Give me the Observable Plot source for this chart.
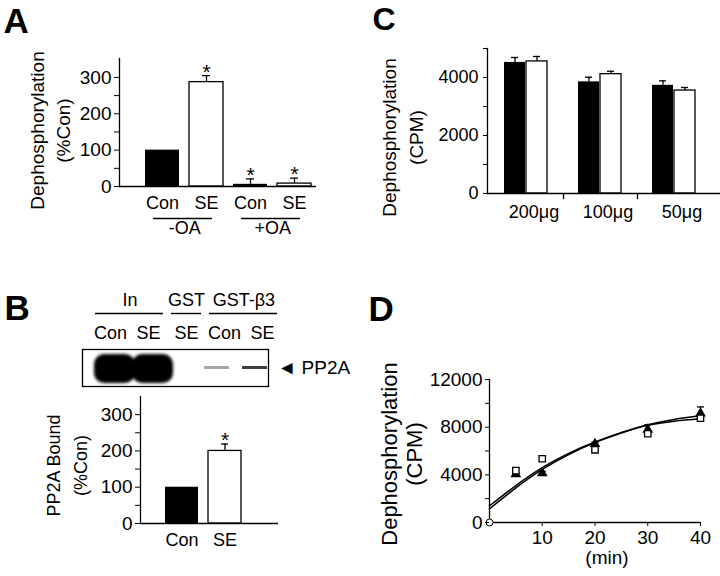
<!DOCTYPE html>
<html><head><meta charset="utf-8">
<script src="https://cdn.jsdelivr.net/npm/d3@7"></script>
<script src="https://cdn.jsdelivr.net/npm/@observablehq/plot@0.6"></script>
<style>
html,body{margin:0;padding:0;background:#fff;}
#fig{position:relative;width:720px;height:576px;background:#fff;overflow:hidden;}
.panel{position:absolute;}
.panel svg{display:block;max-width:none;}
</style></head>
<body><div id="fig"></div>
<script>
// ---------- Panel A data ----------
const catsA = ["Con -OA", "SE -OA", "Con +OA", "SE +OA"];
const labelsA = ["Con", "SE", "Con", "SE"];
const condA = ["Con", "SE", "Con", "SE"];
const valueA = [100, 287, 6, 8];
const upperA = [100, 305, 21, 23];
const starA = [false, true, true, true];
const groupLabelsA = ["-OA", "+OA"];
const groupFirstA = ["Con -OA", "Con +OA"];
const groupLastA = ["SE -OA", "SE +OA"];

// ---------- Panel B data ----------
const laneIds = ["In Con", "In SE", "GST SE", "b3 Con", "b3 SE"];
const laneLabels = ["Con", "SE", "SE", "Con", "SE"];
const laneSignal = [1.0, 1.0, 0.0, 0.35, 0.75];
const headerLabels = ["In", "GST", "GST-β3"];
const headerFirst = ["In Con", "GST SE", "b3 Con"];
const headerLast = ["In SE", "GST SE", "b3 SE"];
const condB = ["Con", "SE"];
const valueB = [100, 200];
const upperB = [100, 219];
const starB = [false, true];

// ---------- Panel C data ----------
const doseC = ["200μg", "100μg", "50μg"];
const conC = [4520, 3850, 3730];
const conUpC = [4690, 4010, 3885];
const seC = [4555, 4115, 3550];
const seUpC = [4725, 4215, 3655];

// ---------- Panel D data ----------
const timeD = [5, 10, 20, 30, 40];
const conD = [4050, 4150, 6600, 7800, 9150];
const conUpD = [4150, 4300, 6750, 8200, 9700];
const seD = [4350, 5350, 6100, 7450, 8750];
const seUpD = [4550, 5600, 6250, 7600, 8900];
const originTimeD = [0];
const originValueD = [0];
const fitTimeD = [0, 5, 10, 15, 20, 25, 30, 35, 40];
const fitConD = [1400, 3100, 4600, 5800, 6750, 7550, 8200, 8650, 8950];
const fitSeD = [1150, 2900, 4450, 5700, 6700, 7500, 8150, 8500, 8700];

const FONT = "'Liberation Sans', Arial, Helvetica, sans-serif";
const STYLE = {fontFamily: FONT, fontSize: "18px", background: "transparent", overflow: "visible", color: "#000"};
const fig = document.getElementById("fig");
function place(el, left, top) {
  const d = document.createElement("div");
  d.className = "panel";
  d.style.left = left + "px";
  d.style.top = top + "px";
  d.appendChild(el);
  fig.appendChild(d);
}
const capSymbol = {draw(ctx, size) { const w = Math.sqrt(size / Math.PI); ctx.moveTo(-w, 0); ctx.lineTo(w, 0); }};

// ================= Panel A =================
const rowsA = catsA.map((c, i) => ({cat: c, label: labelsA[i], cond: condA[i], value: valueA[i], hi: upperA[i], star: starA[i]}));
const labelOfA = Object.fromEntries(catsA.map((c, i) => [c, labelsA[i]]));
const grpA = groupLabelsA.map((g, i) => ({label: g, first: groupFirstA[i], last: groupLastA[i]}));
const plotA = Plot.plot({
  width: 360, height: 260, marginLeft: 119, marginRight: 44, marginTop: 58, marginBottom: 74,
  style: STYLE,
  x: {domain: catsA, paddingInner: 0.22, paddingOuter: 0.332, align: 0.85, label: null},
  y: {domain: [0, 352], label: null},
  marks: [
    Plot.barY(rowsA, {filter: d => d.cond === "Con", x: "cat", y: "value", fill: "#000"}),
    Plot.barY(rowsA, {filter: d => d.cond === "SE", x: "cat", y: "value", fill: "#fff", stroke: "#000", strokeWidth: 1.3}),
    Plot.ruleX(rowsA, {filter: d => d.hi > d.value, x: "cat", y1: "value", y2: "hi", strokeWidth: 1.3}),
    Plot.tickY(rowsA, {filter: d => d.hi > d.value, x: "cat", y: "hi", insetLeft: 13, insetRight: 13, strokeWidth: 1.3}),
    Plot.text(rowsA, {filter: d => d.star, x: "cat", y: "hi", text: () => "*", lineAnchor: "bottom", dy: 3, fontSize: 21}),
    Plot.frame({anchor: "left", strokeWidth: 1.3}),
    Plot.ruleY([0], {strokeWidth: 1.3}),
    Plot.axisY({ticks: d3.range(0, 301, 50), tickSize: 5, tickPadding: 3, tickFormat: d => d % 100 === 0 ? String(d) : "", fontSize: 19, label: null}),
    Plot.axisX({tickSize: 0, tickPadding: 10, tickFormat: d => labelOfA[d], fontSize: 18, label: null}),
    Plot.ruleY(grpA, {x1: "first", x2: "last", y: () => 0, dy: 32, insetLeft: 8, insetRight: 11, strokeWidth: 1.4}),
    Plot.text(grpA, {x: "first", text: "label", frameAnchor: "bottom", dx: 22.2, dy: 47, fontSize: 18}),
    Plot.text(["Dephosphorylation\n(%Con)"], {frameAnchor: "left", textAnchor: "middle", rotate: -90, dx: -70.7, dy: 8, lineHeight: 1.37, fontSize: 19}),
    Plot.text(["A"], {frameAnchor: "top-left", textAnchor: "start", lineAnchor: "bottom", dx: -116, dy: -26, fontSize: 35, fontWeight: "bold"})
  ]
});
place(plotA, 0, 0);

// ================= Panel C =================
const rowsC = doseC.map((g, i) => ({dose: g, con: conC[i], conHi: conUpC[i], se: seC[i], seHi: seUpC[i]}));
const plotC = Plot.plot({
  width: 360, height: 260, marginLeft: 127, marginRight: 0, marginTop: 48, marginBottom: 67,
  style: STYLE,
  x: {domain: doseC, paddingInner: 0.4133, paddingOuter: 0.26, align: 0.41, label: null},
  y: {domain: [0, 5000], label: null},
  marks: [
    Plot.barY(rowsC, {x: "dose", y: "con", fill: "#000", insetRight: 22}),
    Plot.barY(rowsC, {x: "dose", y: "se", fill: "#fff", stroke: "#000", strokeWidth: 1.3, insetLeft: 22}),
    Plot.ruleX(rowsC, {x: "dose", y1: "con", y2: "conHi", dx: -11, strokeWidth: 1.3}),
    Plot.tickY(rowsC, {x: "dose", y: "conHi", dx: -11, insetLeft: 18, insetRight: 18, strokeWidth: 1.3}),
    Plot.ruleX(rowsC, {x: "dose", y1: "se", y2: "seHi", dx: 11, strokeWidth: 1.3}),
    Plot.tickY(rowsC, {x: "dose", y: "seHi", dx: 11, insetLeft: 18, insetRight: 18, strokeWidth: 1.3}),
    Plot.frame({anchor: "left", strokeWidth: 1.3}),
    Plot.ruleY([0], {strokeWidth: 1.3}),
    Plot.axisY({ticks: d3.range(0, 5001, 1000), tickSize: 4, tickPadding: 5, tickFormat: d => d % 2000 === 0 ? String(d) : "", fontSize: 18, label: null}),
    Plot.axisX({ticks: doseC.slice(0, 2), tickSize: 6, tickFormat: () => "", dx: 37.5, strokeWidth: 1.3, label: null}),
    Plot.axisX({tickSize: 0, tickPadding: 12, dx: 8, fontSize: 18, label: null}),
    Plot.text(["Dephosphorylation\n(CPM)"], {frameAnchor: "left", textAnchor: "middle", rotate: -90, dx: -86.5, dy: 16.5, lineHeight: 1.42, fontSize: 19}),
    Plot.text(["C"], {frameAnchor: "top-left", textAnchor: "start", lineAnchor: "bottom", dx: -115, dy: -19, fontSize: 32, fontWeight: "bold"})
  ]
});
place(plotC, 360, 0);

// ================= Panel B: blot =================
const laneRows = laneIds.map((l, i) => ({lane: l, label: laneLabels[i], signal: laneSignal[i]}));
const laneLabelOf = Object.fromEntries(laneIds.map((l, i) => [l, laneLabels[i]]));
const hdrRows = headerLabels.map((h, i) => ({label: h, first: headerFirst[i], last: headerLast[i]}));
const plotBlot = Plot.plot({
  width: 360, height: 110, marginLeft: 82, marginRight: 92, marginTop: 69, marginBottom: 4,
  style: STYLE,
  x: {domain: laneIds, range: [88.6, 282.6], padding: 0, label: null},
  opacity: {type: "identity"},
  marks: [
    Plot.cell(laneRows, {filter: d => d.signal >= 0.9, x: "lane", fill: "#000", insetTop: 5, insetBottom: 3, insetLeft: -1.5, insetRight: -1.5, dx: 4.5, rx: 10}),
    Plot.cell(laneRows, {filter: d => d.signal > 0 && d.signal < 0.9, x: "lane", fill: "#000", fillOpacity: "signal", insetTop: 17, insetBottom: 17, insetLeft: 5, insetRight: 8, dx: -6}),
    Plot.frame({stroke: "#000", strokeWidth: 1.3}),
    Plot.axisX({anchor: "top", tickSize: 0, tickPadding: 11, tickFormat: d => laneLabelOf[d], fontSize: 18, label: null}),
    Plot.ruleY(hdrRows, {x1: "first", x2: "last", y: null, dy: -54.5, insetLeft: 4, insetRight: 4, strokeWidth: 1.4}),
    Plot.text(hdrRows, {filter: d => d.first !== d.last, x: "first", text: "label", dx: 19.4, frameAnchor: "top", lineAnchor: "bottom", dy: -44, fontSize: 18}),
    Plot.text(hdrRows, {filter: d => d.first === d.last, x: "first", text: "label", frameAnchor: "top", lineAnchor: "bottom", dy: -44, fontSize: 18}),
    Plot.text(["◄ PP2A"], {frameAnchor: "right", textAnchor: "start", dx: 9, fontSize: 19}),
    Plot.text(["B"], {frameAnchor: "top-left", textAnchor: "start", lineAnchor: "bottom", dx: -78, dy: -30, fontSize: 35, fontWeight: "bold"})
  ]
});
{
  const s = d3.select(plotBlot);
  const defs = s.insert("defs", ":first-child");
  defs.append("filter").attr("id", "blotBlur").attr("x", "-20%").attr("y", "-30%").attr("width", "140%").attr("height", "160%")
    .append("feGaussianBlur").attr("stdDeviation", 1.4);
  defs.append("filter").attr("id", "bandBlur").attr("x", "-20%").attr("y", "-100%").attr("width", "140%").attr("height", "300%")
    .append("feGaussianBlur").attr("stdDeviation", 0.7);
  const cells = s.selectAll("g[aria-label='cell']").nodes();
  if (cells[0]) cells[0].setAttribute("filter", "url(#blotBlur)");
  if (cells[1]) cells[1].setAttribute("filter", "url(#bandBlur)");
}
place(plotBlot, 0, 280);

// ================= Panel B: bars =================
const rowsB = condB.map((c, i) => ({cond: c, value: valueB[i], hi: upperB[i], star: starB[i]}));
const plotB = Plot.plot({
  width: 360, height: 186, marginLeft: 140, marginRight: 82, marginTop: 6, marginBottom: 53,
  style: STYLE,
  x: {domain: condB, paddingInner: 0.227, paddingOuter: 0.682, align: 0.4, label: null},
  y: {domain: [0, 350], label: null},
  marks: [
    Plot.barY(rowsB, {filter: d => d.cond === "Con", x: "cond", y: "value", fill: "#000"}),
    Plot.barY(rowsB, {filter: d => d.cond === "SE", x: "cond", y: "value", fill: "#fff", stroke: "#000", strokeWidth: 1.3}),
    Plot.ruleX(rowsB, {filter: d => d.hi > d.value, x: "cond", y1: "value", y2: "hi", strokeWidth: 1.3}),
    Plot.tickY(rowsB, {filter: d => d.hi > d.value, x: "cond", y: "hi", insetLeft: 13, insetRight: 13, strokeWidth: 1.3}),
    Plot.text(rowsB, {filter: d => d.star, x: "cond", y: "hi", text: () => "*", lineAnchor: "bottom", dy: 3, fontSize: 21}),
    Plot.frame({anchor: "left", strokeWidth: 1.3}),
    Plot.ruleY([0], {strokeWidth: 1.3}),
    Plot.axisY({ticks: d3.range(0, 301, 50), tickSize: 5, tickPadding: 3, tickFormat: d => d % 100 === 0 ? String(d) : "", fontSize: 19, label: null}),
    Plot.axisX({tickSize: 0, tickPadding: 10, fontSize: 18, label: null}),
    Plot.text(["PP2A Bound\n(%Con)"], {frameAnchor: "left", textAnchor: "middle", rotate: -90, dx: -75.3, dy: 5.5, lineHeight: 1.5, fontSize: 18})
  ]
});
place(plotB, 0, 390);

// ================= Panel D =================
const conRowsD = timeD.map((t, i) => ({t, v: conD[i], hi: conUpD[i]}));
const seRowsD = timeD.map((t, i) => ({t, v: seD[i], hi: seUpD[i]}));
const originRowsD = originTimeD.map((t, i) => ({t, v: originValueD[i]}));
const fitConRows = fitTimeD.map((t, i) => ({t, v: fitConD[i]}));
const fitSeRows = fitTimeD.map((t, i) => ({t, v: fitSeD[i]}));
const errRowsD = [...conRowsD, ...seRowsD].filter(d => d.hi > d.v);
const plotD = Plot.plot({
  width: 360, height: 316, marginLeft: 129, marginRight: 20, marginTop: 119, marginBottom: 54,
  style: STYLE,
  x: {domain: [0, 40], label: null},
  y: {domain: [0, 12000], label: null},
  marks: [
    Plot.line(fitConRows, {x: "t", y: "v", curve: "natural", strokeWidth: 1.5}),
    Plot.line(fitSeRows, {x: "t", y: "v", curve: "natural", strokeWidth: 1.5}),
    Plot.ruleX(errRowsD, {x: "t", y1: "v", y2: "hi", strokeWidth: 1.2}),
    Plot.dot(errRowsD, {x: "t", y: "hi", symbol: capSymbol, r: 3.5, stroke: "#000", fill: "none", strokeWidth: 1.3}),
    Plot.frame({anchor: "left", strokeWidth: 1.3}),
    Plot.ruleY([0], {strokeWidth: 1.3}),
    Plot.dot(conRowsD, {x: "t", y: "v", symbol: "triangle", r: 4, fill: "#000"}),
    Plot.dot(seRowsD, {x: "t", y: "v", symbol: "square", r: 3.6, fill: "#fff", stroke: "#000", strokeWidth: 1.3}),
    Plot.dot(originRowsD, {x: "t", y: "v", r: 3.5, fill: "#fff", stroke: "#000", strokeWidth: 1}),
    Plot.axisY({ticks: d3.range(0, 12001, 2000), tickSize: 4, tickPadding: 3, tickFormat: d => d % 4000 === 0 ? String(d) : "", fontSize: 19, label: null}),
    Plot.axisX({ticks: [10, 20, 30, 40], tickSize: 4, tickPadding: 4, tickFormat: d => String(d), fontSize: 19, label: null}),
    Plot.text(["(min)"], {frameAnchor: "bottom", dx: 12, dy: 41, fontSize: 19}),
    Plot.text(["Dephosphorylation\n(CPM)"], {frameAnchor: "left", textAnchor: "middle", rotate: -90, dx: -88, dy: 3, lineHeight: 1.14, fontSize: 22}),
    Plot.text(["D"], {frameAnchor: "top-left", textAnchor: "start", lineAnchor: "bottom", dx: -121, dy: -59, fontSize: 35, fontWeight: "bold"})
  ]
});
place(plotD, 360, 260);
</script></body></html>
